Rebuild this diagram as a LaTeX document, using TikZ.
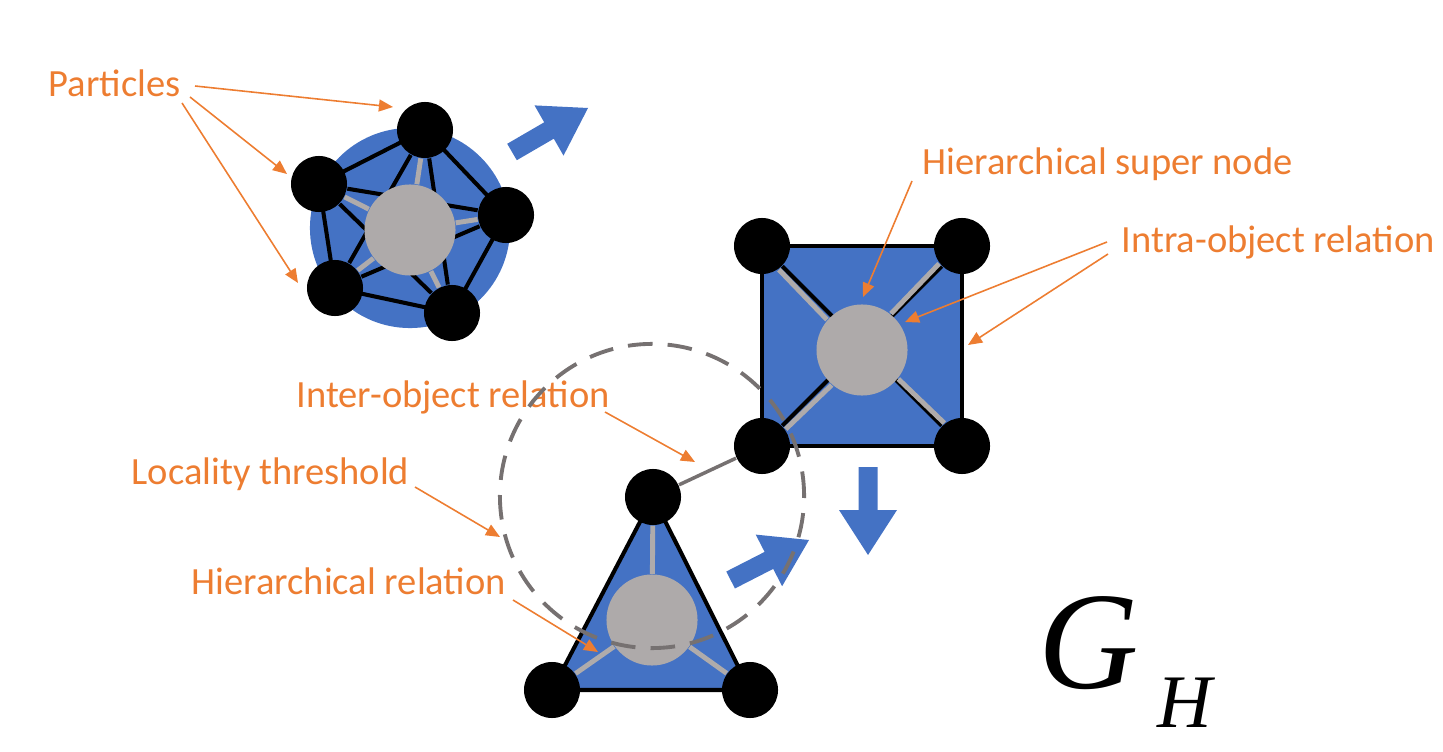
\documentclass[tikz,border=0pt]{standalone}
\usepackage{fontspec}
\setmainfont{Carlito}
\newfontfamily\gfont{Liberation Serif}
\usetikzlibrary{arrows.meta}
\pgfdeclarelayer{bg}
\pgfdeclarelayer{mid}
\pgfdeclarelayer{fg}
\pgfsetlayers{bg,mid,main,fg}
\definecolor{objblue}{HTML}{4472C4}
\definecolor{lblorange}{HTML}{ED7D31}
\definecolor{supergray}{HTML}{AEAAAA}
\definecolor{spokegray}{HTML}{AFABAB}
\definecolor{linkgray}{HTML}{767171}
\tikzset{
  particle/.style={circle,fill=black,minimum size=0.56cm,inner sep=0pt},
  supernode/.style={circle,fill=supergray,minimum size=0.91cm,inner sep=0pt},
  intra/.style={black,line width=1.15pt},
  hier/.style={spokegray,line width=1.4pt},
  inter/.style={linkgray,line width=1pt},
  objbody/.style={fill=objblue},
  objborder/.style={fill=objblue,draw=black,line width=1.15pt,line join=miter},
  lbl/.style={text=lblorange,font=\fontsize{10.95}{12}\selectfont,inner sep=0pt,anchor=base west},
  callout/.style={lblorange,line width=0.45pt,-{Triangle[length=4pt,width=3.4pt]}},
  blockarrow/.style={fill=objblue},
  locality/.style={circle,draw=linkgray,line width=1.1pt,dash pattern=on 7pt off 4.3pt,minimum size=3.04cm,inner sep=0pt}
}
\begin{document}
\begin{tikzpicture}[x=0.01cm,y=-0.01cm]
\useasboundingbox (0,0) rectangle (1443,752);

% ---------- pentagon object ----------
\node[particle] (p1) at (425,130) {};
\node[particle] (p2) at (319,184) {};
\node[particle] (p3) at (506,215) {};
\node[particle] (p4) at (335,288) {};
\node[particle] (p5) at (452,313) {};
\node[supernode] (pc) at (410,230) {};
\begin{pgfonlayer}{bg}
  \node[objbody,circle,minimum size=2cm,inner sep=0pt] (pdisk) at (410,228) {};
\end{pgfonlayer}
\begin{pgfonlayer}{mid}
  \draw[intra] (p1.center) -- (p2.center) -- (p4.center) -- (p5.center) -- (p3.center) -- (p1.center);
  \draw[intra] (p1) -- (p4);
  \draw[intra] (p1) -- (p5);
  \draw[intra] (p2) -- (p3);
  \draw[intra] (p2) -- (p5);
  \draw[intra] (p3) -- (p4);
  \foreach \p in {p1,p2,p3,p4,p5} \draw[hier] (pc) -- (\p);
\end{pgfonlayer}

% ---------- square object ----------
\node[particle] (s1) at (762,246) {};
\node[particle] (s2) at (962,246) {};
\node[particle] (s3) at (762,446) {};
\node[particle] (s4) at (962,446) {};
\node[supernode] (sc) at (862,350) {};
\begin{pgfonlayer}{bg}
  \draw[objborder] (s1.center) -- (s2.center) -- (s4.center) -- (s3.center) -- cycle;
\end{pgfonlayer}
\begin{pgfonlayer}{mid}
  \draw[intra] (s1) -- (s4);
  \draw[intra] (s2) -- (s3);
  \draw[hier,transform canvas={shift={(-0.03cm,-0.03cm)}}] (sc) -- (s1);
  \draw[hier,transform canvas={shift={(-0.03cm,0.03cm)}}] (sc) -- (s2);
  \draw[hier,transform canvas={shift={(0.03cm,-0.03cm)}}] (sc) -- (s3);
  \draw[hier,transform canvas={shift={(0.03cm,0.03cm)}}] (sc) -- (s4);
\end{pgfonlayer}

% ---------- triangle object ----------
\node[particle] (t1) at (653,497) {};
\node[particle] (t2) at (552,690) {};
\node[particle] (t3) at (750,690) {};
\node[supernode] (tc) at (652,620) {};
\begin{pgfonlayer}{bg}
  \draw[objborder] (t1.center) -- (t2.center) -- (t3.center) -- cycle;
\end{pgfonlayer}
\begin{pgfonlayer}{mid}
  \foreach \t in {t1,t2,t3} \draw[hier] (tc) -- (\t);
  \draw[inter] (t1) -- (s3);
\end{pgfonlayer}

% ---------- motion arrows ----------
\fill[blockarrow] (507.2,143.8) -- (544.2,122.3) -- (534.5,105.4) -- (588,108) -- (563.5,155.6) -- (553.8,138.7) -- (516.8,160.2) -- cycle;
\fill[blockarrow] (726.3,571.5) -- (764.6,551.9) -- (755.7,534.6) -- (809,540) -- (782.1,586.2) -- (773.2,568.9) -- (734.9,588.5) -- cycle;
\fill[blockarrow] (858.5,467) -- (877.5,467) -- (877.5,510) -- (897,510) -- (868,555) -- (839,510) -- (858.5,510) -- cycle;

% ---------- locality threshold ----------
\begin{pgfonlayer}{fg}
  \node[locality] (loc) at (652,496) {};
\end{pgfonlayer}

% ---------- labels ----------
\node[lbl] (lpart) at (48,97) {Particles};
\node[lbl] (lsuper) at (922,175) {Hierarchical super node};
\node[lbl] (lintra) at (1121,253) {Intra-object relation};
\node[lbl] (linter) at (296,407) {Inter-object relation};
\node[lbl] (lloc) at (131,484) {Locality threshold};
\node[lbl] (lhier) at (191,594) {Hierarchical relation};

\coordinate (a1s) at (195,86);  \coordinate (a1e) at (393,107);
\coordinate (a2s) at (190,97);  \coordinate (a2e) at (287,174);
\coordinate (a3s) at (182,103); \coordinate (a3e) at (298,283);
\coordinate (a4s) at (912,181); \coordinate (a4e) at (863,297);
\coordinate (a5s) at (1107,242); \coordinate (a5e) at (905,322);
\coordinate (a6s) at (1108,254); \coordinate (a6e) at (968,345);
\coordinate (a7s) at (605,412); \coordinate (a7e) at (695,462);
\coordinate (a8s) at (415,487); \coordinate (a8e) at (500,537);
\coordinate (a9s) at (513,600); \coordinate (a9e) at (598,652);
\begin{pgfonlayer}{fg}
  \foreach \s/\e in {a1s/a1e,a2s/a2e,a3s/a3e,a4s/a4e,a5s/a5e,a6s/a6e,a7s/a7e,a8s/a8e,a9s/a9e}
    \draw[callout] (\s) -- (\e);
\end{pgfonlayer}

% ---------- graph name ----------
\node[inner sep=0pt,anchor=base west,font=\gfont\itshape\fontsize{39.5}{41}\selectfont] (gname) at (1038,688) {G};
\node[inner sep=0pt,anchor=base west,font=\gfont\itshape\fontsize{21.5}{23}\selectfont] (gsub) at (1157,727) {H};
\end{tikzpicture}
\end{document}
